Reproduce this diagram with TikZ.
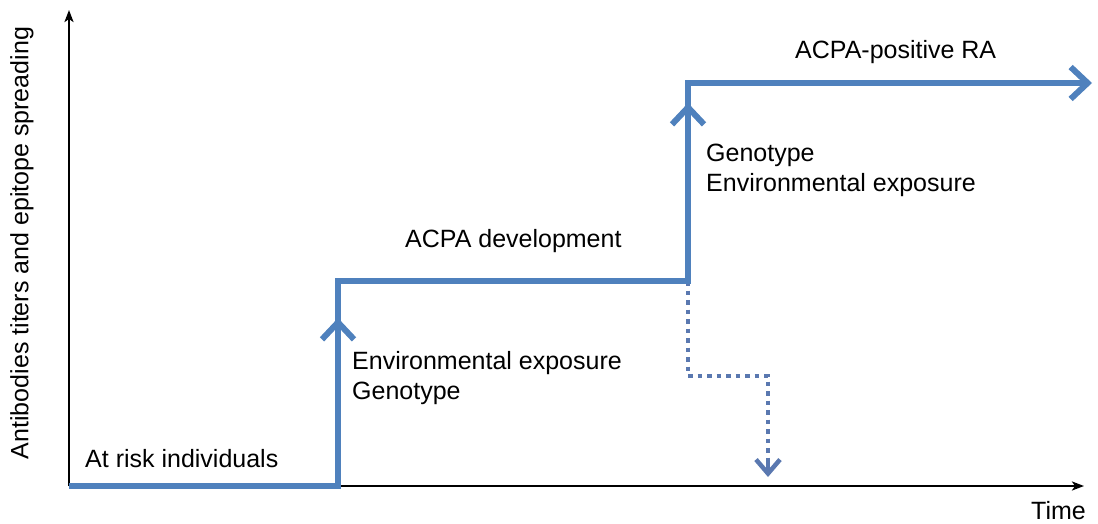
\documentclass[tikz,border=0pt]{standalone}
\usepackage{fontspec}
\setmainfont{Liberation Sans}
\usetikzlibrary{arrows.meta}
\definecolor{stepblue}{HTML}{4F81BD}
\definecolor{dotblue}{HTML}{5A78B0}
\begin{document}
\begin{tikzpicture}[x=1pt,y=-1pt,
  axisline/.style={line width=2.4pt,black,-{Stealth[length=12pt,width=9pt,inset=3pt]}},
  pathline/.style={line width=6pt,stepblue,line join=miter},
  tipline/.style={line width=6pt,stepblue,-{Straight Barb[length=17pt,width=32pt,line width=6pt]}},
  dotline/.style={line width=4.5pt,dotblue,dash pattern=on 4.5pt off 5pt},
  label/.style={font=\fontsize{25}{30}\selectfont,inner sep=0pt,anchor=west,align=left}]
\useasboundingbox (0,0) rectangle (1098,524);
% axes
\coordinate (O) at (69,486);
\coordinate (Ytop) at (69,10);
\coordinate (Xend) at (1084,486);
\draw[axisline] (O) -- (Ytop);
\draw[axisline] (O) -- (Xend);
% step path corners
\coordinate (s0) at (69,486);
\coordinate (s1) at (338,486);
\coordinate (s1m) at (338,318);
\coordinate (s2) at (338,281);
\coordinate (s3) at (688,281);
\coordinate (s3m) at (688,103);
\coordinate (s4) at (688,83);
\coordinate (s5) at (1092,83);
% dotted branch
\coordinate (d1) at (688,376);
\coordinate (d2) at (768,376);
\coordinate (d3) at (768,477);
\coordinate (d3a) at (768,460);
\draw[dotline] (s3) -- (d1) -- (d2) -- (d3a);
\draw[line width=4.5pt,dotblue,-{Straight Barb[length=14pt,width=24pt,line width=4.5pt]}] (d3a) -- (d3);
\draw[pathline] (s0) -- (s1) -- (s2) -- (s3) -- (s4) -- (1080,83);
\draw[tipline] (s1) -- (s1m);
\draw[tipline] (s3) -- (s3m);
\draw[tipline] (s4) -- (s5);
% labels
\node[label] (risk) at (85,459) {At risk individuals};
\node[label] (env1) at (352,363) {Environmental exposure};
\node[label] (gen1) at (352,393) {Genotype};
\node[label] (dev) at (405,241) {ACPA development};
\node[label] (gen2) at (706,155) {Genotype};
\node[label] (env2) at (706,185) {Environmental exposure};
\node[label] (ra) at (795,52) {ACPA-positive RA};
\node[label,anchor=east] (time) at (1086,511) {Time};
\node[label,anchor=center,rotate=90] (ylab) at (22,243) {Antibodies titers and epitope spreading};
\end{tikzpicture}
\end{document}
